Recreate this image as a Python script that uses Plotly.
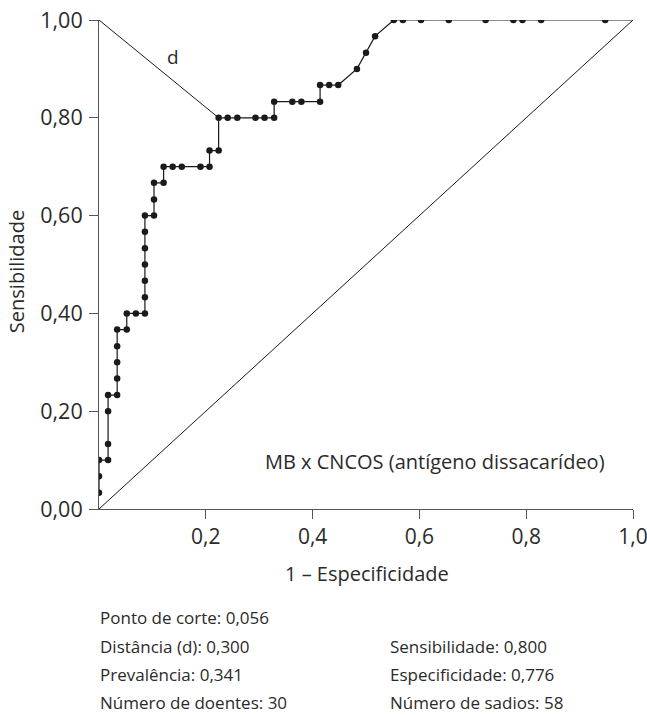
import plotly.graph_objects as go

# ROC points: 1 - specificity (x) and sensitivity (y)
fpr = [0.000, 0.000, 0.000, 0.017, 0.017, 0.017, 0.017, 0.034, 0.034, 0.034,
       0.034, 0.034, 0.052, 0.052, 0.069, 0.086, 0.086, 0.086, 0.086, 0.086,
       0.086, 0.086, 0.103, 0.103, 0.103, 0.121, 0.121, 0.138, 0.155, 0.190,
       0.207, 0.207, 0.224, 0.224, 0.241, 0.259, 0.293, 0.310, 0.328, 0.328,
       0.362, 0.379, 0.414, 0.414, 0.431, 0.448, 0.483, 0.500, 0.517, 0.552,
       0.569, 0.603, 0.655, 0.724, 0.776, 0.793, 0.828, 0.948]
sens = [0.033, 0.067, 0.100, 0.100, 0.133, 0.200, 0.233, 0.233, 0.267, 0.300,
        0.333, 0.367, 0.367, 0.400, 0.400, 0.400, 0.433, 0.467, 0.500, 0.533,
        0.567, 0.600, 0.600, 0.633, 0.667, 0.667, 0.700, 0.700, 0.700, 0.700,
        0.700, 0.733, 0.733, 0.800, 0.800, 0.800, 0.800, 0.800, 0.800, 0.833,
        0.833, 0.833, 0.833, 0.867, 0.867, 0.867, 0.900, 0.933, 0.967, 1.000,
        1.000, 1.000, 1.000, 1.000, 1.000, 1.000, 1.000, 1.000]
roc_end = (1.0, 1.0)
ideal_point = (0.0, 1.0)
cut_sensitivity = 0.800
cut_specificity = 0.776

x_ticks = [0.2, 0.4, 0.6, 0.8, 1.0]
x_ticktext = ["0,2", "0,4", "0,6", "0,8", "1,0"]
y_ticks = [0.0, 0.2, 0.4, 0.6, 0.8, 1.0]
y_ticktext = ["0,00", "0,20", "0,40", "0,60", "0,80", "1,00"]

info_left = ["Ponto de corte: 0,056", "Distância (d): 0,300",
             "Prevalência: 0,341", "Número de doentes: 30"]
info_right = ["", "Sensibilidade: 0,800",
              "Especificidade: 0,776", "Número de sadios: 58"]

FONT = "'Open Sans', sans-serif"
TXT = "#2a2a2a"
INK = "#1a1a1a"
AX = "#555555"

fig = go.Figure()
# diagonal reference line
fig.add_trace(go.Scatter(x=[0, 1], y=[0, 1], mode="lines",
                         line=dict(color=INK, width=1), hoverinfo="skip"))
# distance d from ideal point to cut point
fig.add_trace(go.Scatter(x=[ideal_point[0], 1 - cut_specificity],
                         y=[ideal_point[1], cut_sensitivity], mode="lines",
                         line=dict(color=INK, width=1), hoverinfo="skip"))
# ROC curve line
fig.add_trace(go.Scatter(x=fpr + [roc_end[0]], y=sens + [roc_end[1]], mode="lines",
                         line=dict(color=INK, width=1.2), hoverinfo="skip"))
# ROC points
fig.add_trace(go.Scatter(x=fpr, y=sens, mode="markers",
                         marker=dict(color=INK, size=6.5), hoverinfo="skip"))

ann = []
ann.append(dict(x=0.139, y=0.924, xref="x", yref="y", text="d", showarrow=False,
                font=dict(size=19, color=TXT, family=FONT)))
ann.append(dict(x=0.951, y=0.097, xref="paper", yref="paper", xanchor="right",
                yanchor="middle", text="MB x CNCOS (antígeno dissacarídeo)",
                showarrow=False, font=dict(size=20, color=TXT, family=FONT)))
ann.append(dict(x=0.502, y=-0.132, xref="paper", yref="paper", xanchor="center",
                yanchor="middle", text="1 – Especificidade", showarrow=False,
                font=dict(size=20, color=TXT, family=FONT)))
ann.append(dict(x=-0.153, y=0.485, xref="paper", yref="paper", xanchor="center",
                yanchor="middle", text="Sensibilidade", textangle=-90, showarrow=False,
                font=dict(size=20, color=TXT, family=FONT)))
row_y = [-0.222, -0.281, -0.338, -0.396]
for i, t in enumerate(info_left):
    ann.append(dict(x=-0.002, y=row_y[i], xref="paper", yref="paper", xanchor="left",
                    yanchor="middle", text=t, showarrow=False,
                    font=dict(size=17, color=TXT, family=FONT)))
for i, t in enumerate(info_right):
    if t:
        ann.append(dict(x=0.542, y=row_y[i], xref="paper", yref="paper", xanchor="left",
                        yanchor="middle", text=t, showarrow=False,
                        font=dict(size=17, color=TXT, family=FONT)))

fig.update_layout(
    width=647, height=715,
    margin=dict(l=99, r=14, t=20, b=206),
    paper_bgcolor="white", plot_bgcolor="white",
    showlegend=False,
    font=dict(family=FONT, color=TXT, size=16),
    annotations=ann,
    xaxis=dict(range=[0, 1], tickvals=x_ticks, ticktext=x_ticktext,
               showgrid=False, zeroline=False, showline=True, linecolor=AX,
               linewidth=1, ticks="outside", ticklen=9, tickcolor=AX,
               automargin=False, ticklabelstandoff=0, ticklabeloverflow="allow",
               tickfont=dict(size=21, color=TXT, family=FONT)),
    yaxis=dict(range=[0, 1], tickvals=y_ticks, ticktext=y_ticktext,
               showgrid=False, zeroline=False, showline=True, linecolor=AX,
               linewidth=1, ticks="outside", ticklen=9, tickcolor=AX,
               automargin=False, ticklabelstandoff=2, ticklabeloverflow="allow",
               tickfont=dict(size=21.5, color=TXT, family=FONT)),
)

fig.write_html(
    "out.html",
    config={"displayModeBar": False},
    post_script="document.body.style.margin='0';document.body.style.overflow='hidden';",
)
